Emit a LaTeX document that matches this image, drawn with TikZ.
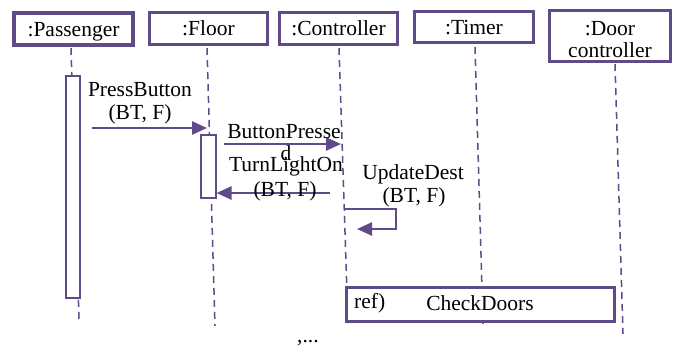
\documentclass[tikz,border=0pt]{standalone}
\usepackage{fontspec}
\setmainfont{Liberation Serif}
\usetikzlibrary{arrows.meta}
\definecolor{pur}{RGB}{96,74,135}
\begin{document}
\begin{tikzpicture}[x=1pt,y=-1pt,
  every node/.style={font=\fontsize{21.5}{22}\selectfont, inner sep=0pt, text=black},
  objbox/.style={draw=pur, line width=3.2pt, fill=white, align=center, text height=14pt, text depth=0pt},
  actbox/.style={draw=pur, line width=2pt, fill=white},
  life/.style={draw=pur, line width=1.5pt, dash pattern=on 7pt off 5pt},
  msg/.style={draw=pur, line width=2.5pt, -{Triangle[length=15pt,width=13pt]}, color=pur},
  lbl/.style={anchor=base}]
\useasboundingbox (0,0) rectangle (676,348);
\fill[white] (0,0) rectangle (676,348);
% lifelines
\coordinate (pt) at (71,48);   \coordinate (pb) at (79,320);
\coordinate (ft) at (207,48);  \coordinate (fb) at (215,326);
\coordinate (ct) at (339,48);  \coordinate (cb) at (348,324);
\coordinate (tt) at (475,47);  \coordinate (tb) at (483,324);
\coordinate (dt) at (615,64);  \coordinate (db) at (623,334);
\draw[life] (pt) -- (pb);
\draw[life] (ft) -- (fb);
\draw[life] (ct) -- (cb);
\draw[life] (tt) -- (tb);
\draw[life] (dt) -- (db);
% object boxes
\node[objbox, minimum width=119pt, minimum height=32pt] (pass) at (73.5,29) {:Passenger};
\node[objbox, minimum width=118pt, minimum height=32pt] (floor) at (208.5,28.5) {:Floor};
\node[objbox, minimum width=118pt, minimum height=32pt] (ctrl) at (338.5,28.5) {:Controller};
\node[objbox, minimum width=119pt, minimum height=31pt] (timer) at (474,27) {:Timer};
\node[draw=pur, line width=3.2pt, fill=white, minimum width=121pt, minimum height=51pt] (door) at (610,36) {};
\node[lbl] (doorl1) at (door.center |- 0,35) {:Door};
\node[lbl] (doorl2) at (door.center |- 0,57) {controller};
% activations
\node[actbox, minimum width=14pt, minimum height=222pt] (actP) at (72.5,186.5) {};
\node[actbox, minimum width=15pt, minimum height=63pt] (actF) at (208,166) {};
% PressButton
\coordinate (pbs) at (92,128); \coordinate (pbe) at (207,128);
\draw[msg] (pbs) -- (pbe);
\node[lbl] (pbl1) at (140,96) {PressButton};
\node[lbl] (pbl2) at (140,119) {(BT, F)};
% ButtonPressed
\coordinate (bps) at (224,144); \coordinate (bpe) at (341,144);
\draw[msg] (bps) -- (bpe);
\node[lbl] (bpl1) at (284,138) {ButtonPresse};
\node[lbl] (bpl2) at (286,160) {d};
% TurnLightOn
\coordinate (tls) at (330,193);
\draw[msg] (tls) -- (tls -| actF.east);
\node[lbl] (tll1) at (286,171) {TurnLightOn};
\node[lbl] (tll2) at (285,196) {(BT, F)};
% UpdateDest self message
\coordinate (us) at (345,209); \coordinate (u1) at (396,209);
\coordinate (u2) at (396,229); \coordinate (ue) at (357,229);
\draw[msg] (us) -- (u1) -- (u2) -- (ue);
\node[lbl] (udl1) at (413,179) {UpdateDest};
\node[lbl] (udl2) at (414,202) {(BT, F)};
% ref frame
\node[draw=pur, line width=3pt, fill=white, minimum width=268pt, minimum height=34pt] (ref) at (480,304) {};
\node[lbl, anchor=base west] (reft) at (354,308) {ref)};
\node[lbl] (refn) at (480,310) {CheckDoors};
% dots
\node[lbl, anchor=base west] (dots) at (297,342) {,...};
\end{tikzpicture}
\end{document}
